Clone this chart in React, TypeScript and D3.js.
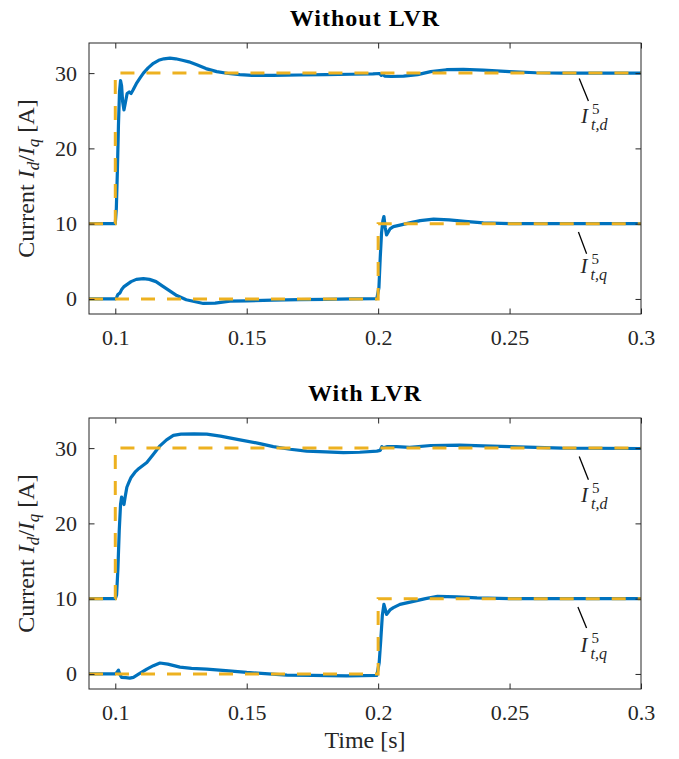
import React, { useRef, useEffect } from 'react'
import * as d3 from 'd3'

// axis ticks
const timeTicks = [0.1, 0.15, 0.2, 0.25, 0.3]
const currentTicks = [0, 10, 20, 30]
const panelTitles = ['Without LVR', 'With LVR']

// reference (dashed) signals
const refTimeD = [0.09, 0.1, 0.1, 0.3]
const refD = [10, 10, 30, 30]
const refTimeQ = [0.09, 0.2, 0.2, 0.3]
const refQ = [0, 0, 10, 10]

// measured I_d, without LVR
const tD1 = [0.09, 0.1, 0.1004, 0.1008, 0.1012, 0.1016, 0.102, 0.1024, 0.1028, 0.1033, 0.1038, 0.1045, 0.1053, 0.106, 0.1068, 0.108, 0.1095, 0.1107, 0.1125, 0.1145, 0.1165, 0.1185, 0.1208, 0.123, 0.1255, 0.128, 0.131, 0.1345, 0.1386, 0.143, 0.1474, 0.152, 0.16, 0.17, 0.18, 0.19, 0.198, 0.2005, 0.2012, 0.2018, 0.2025, 0.205, 0.2097, 0.215, 0.22, 0.226, 0.2324, 0.24, 0.25, 0.26, 0.27, 0.28, 0.3]
const iD1 = [10, 10, 12, 17, 23, 27.5, 29.0, 28.3, 26.2, 25.1, 26.0, 27.3, 27.5, 27.3, 27.8, 28.6, 29.4, 30.0, 30.7, 31.3, 31.7, 31.9, 32.0, 31.9, 31.7, 31.5, 31.1, 30.6, 30.2, 29.95, 29.8, 29.7, 29.7, 29.75, 29.8, 29.85, 29.9, 29.95, 29.7, 29.85, 29.6, 29.55, 29.6, 29.8, 30.2, 30.45, 30.5, 30.4, 30.2, 30.05, 30.0, 30.0, 30.0]

// measured I_q, without LVR
const tQ1 = [0.09, 0.1, 0.1005, 0.101, 0.1018, 0.1025, 0.1032, 0.104, 0.106, 0.108, 0.1107, 0.113, 0.1155, 0.118, 0.121, 0.1234, 0.127, 0.1335, 0.138, 0.1436, 0.15, 0.16, 0.17, 0.18, 0.19, 0.1995, 0.2003, 0.2008, 0.2013, 0.2018, 0.2022, 0.2027, 0.2032, 0.2045, 0.2058, 0.2083, 0.212, 0.216, 0.2211, 0.227, 0.233, 0.24, 0.25, 0.26, 0.3]
const iQ1 = [0, 0, 0.2, 0.6, 0.8, 1.3, 1.6, 1.8, 2.3, 2.6, 2.7, 2.6, 2.3, 1.7, 1.0, 0.45, -0.1, -0.6, -0.55, -0.3, -0.25, -0.15, -0.1, -0.05, 0.0, 0.05, 1.5, 5.5, 8.8, 10.4, 10.95, 9.5, 8.5, 9.3, 9.6, 9.8, 10.1, 10.4, 10.6, 10.5, 10.3, 10.1, 10.0, 10.0, 10.0]

// measured I_d, with LVR
const tD2 = [0.09, 0.1, 0.1005, 0.101, 0.1015, 0.102, 0.1024, 0.1028, 0.1033, 0.1038, 0.1044, 0.105, 0.106, 0.1075, 0.109, 0.112, 0.1145, 0.117, 0.1195, 0.1221, 0.125, 0.13, 0.1348, 0.14, 0.1474, 0.155, 0.1601, 0.1665, 0.1728, 0.18, 0.1868, 0.193, 0.1995, 0.2008, 0.2014, 0.202, 0.2035, 0.207, 0.212, 0.22, 0.231, 0.24, 0.25, 0.26, 0.27, 0.3]
const iD2 = [10, 10, 10.5, 14, 19, 22.5, 23.5, 23.0, 22.5, 23.6, 24.8, 25.3, 26.1, 26.8, 27.3, 28.1, 29.2, 30.3, 31.1, 31.7, 31.85, 31.9, 31.85, 31.6, 31.1, 30.6, 30.2, 29.85, 29.6, 29.5, 29.4, 29.45, 29.6, 29.7, 30.2, 30.05, 30.2, 30.2, 30.1, 30.35, 30.4, 30.3, 30.2, 30.1, 30.0, 29.95]

// measured I_q, with LVR
const tQ2 = [0.09, 0.1, 0.1006, 0.1012, 0.1018, 0.1024, 0.104, 0.1055, 0.1069, 0.109, 0.112, 0.1145, 0.117, 0.12, 0.1246, 0.129, 0.1348, 0.142, 0.15, 0.1653, 0.175, 0.188, 0.1995, 0.2004, 0.201, 0.2016, 0.2022, 0.2027, 0.2032, 0.2045, 0.2058, 0.2083, 0.213, 0.218, 0.2226, 0.23, 0.2376, 0.25, 0.3]
const iQ2 = [0, 0, 0.2, 0.5, -0.1, -0.45, -0.5, -0.55, -0.45, 0.0, 0.65, 1.1, 1.45, 1.3, 0.9, 0.75, 0.65, 0.45, 0.2, -0.15, -0.2, -0.25, -0.2, 1.5, 4.5, 7.8, 9.25, 8.6, 7.9, 8.5, 8.8, 9.25, 9.6, 10.0, 10.3, 10.25, 10.1, 10.0, 10.0]

// label callouts [t0, y0, t1, y1, tText, yText] per panel
const calloutD = [[0.2765, 29.3, 0.28, 26.3, 0.2772, 23.4], [0.2765, 28.9, 0.28, 25.8, 0.2772, 22.8]]
const calloutQ = [[0.2762, 8.9, 0.2793, 6.0, 0.277, 3.4], [0.276, 8.9, 0.2793, 6.1, 0.277, 2.9]]

const FONT = 'Liberation Serif'
const BLUE = '#0072BD'
const YELLOW = '#EDB120'
const AXIS = '#262626'

const App = () => {
    const visEl = useRef(null)
    const width = 679
    const height = 759

    useEffect(() => {
        const svg = d3.select(visEl.current)
        svg.selectAll('*').remove()

        const left = 89, right = 641
        const panelTops = [43, 418]
        const panelH = 271

        const x = d3.scaleLinear().domain([0.09, 0.3]).range([left, right])

        const series = [
            [[tD1, iD1], [tQ1, iQ1]],
            [[tD2, iD2], [tQ2, iQ2]],
        ]

        panelTops.forEach((top, p) => {
            const y = d3.scaleLinear().domain([-2, 34]).range([top + panelH, top])
            const g = svg.append('g')

            g.append('clipPath').attr('id', `clip${p}`)
                .append('rect').attr('x', left).attr('y', top)
                .attr('width', right - left).attr('height', panelH)

            const path = (ts: number[], vs: number[]) =>
                d3.line<number>().x(i => x(ts[i])).y(i => y(vs[i]))(d3.range(ts.length))

            const plot = g.append('g').attr('clip-path', `url(#clip${p})`)
            series[p].forEach(([ts, vs]) => {
                plot.append('path').attr('d', path(ts, vs))
                    .attr('fill', 'none').attr('stroke', BLUE)
                    .attr('stroke-width', 3.2).attr('stroke-linejoin', 'round')
            })
            ;[[refTimeD, refD], [refTimeQ, refQ]].forEach(([ts, vs]) => {
                plot.append('path').attr('d', path(ts, vs))
                    .attr('fill', 'none').attr('stroke', YELLOW)
                    .attr('stroke-width', 3).attr('stroke-dasharray', '14 12')
            })

            // axes
            const xAxis = d3.axisBottom(x).tickValues(timeTicks)
                .tickFormat(d => d3.format('')(+d))
                .tickSizeInner(-5.5).tickSizeOuter(0).tickPadding(15.4)
            const xg = g.append('g').attr('transform', `translate(0,${top + panelH})`).call(xAxis)
            const xTop = d3.axisTop(x).tickValues(timeTicks).tickFormat(() => '')
                .tickSizeInner(-5.5).tickSizeOuter(0)
            const xtg = g.append('g').attr('transform', `translate(0,${top})`).call(xTop)
            const yAxis = d3.axisLeft(y).tickValues(currentTicks)
                .tickSizeInner(-5.5).tickSizeOuter(0).tickPadding(12)
            const yg = g.append('g').attr('transform', `translate(${left},0)`).call(yAxis)
            const yRight = d3.axisRight(y).tickValues(currentTicks).tickFormat(() => '')
                .tickSizeInner(-5.5).tickSizeOuter(0)
            const yrg = g.append('g').attr('transform', `translate(${right},0)`).call(yRight)

            ;[xg, xtg, yg, yrg].forEach(a => {
                a.attr('font-family', FONT).attr('font-size', 22)
                a.select('.domain').remove()
                a.selectAll('line').attr('stroke', AXIS).attr('stroke-width', 1)
                a.selectAll('text').attr('fill', AXIS)
                    .style('font-family', FONT).style('font-size', '22px')
            })

            g.append('rect').attr('x', left).attr('y', top)
                .attr('width', right - left).attr('height', panelH)
                .attr('fill', 'none').attr('stroke', AXIS).attr('stroke-width', 1)

            // title
            g.append('text')
                .attr('x', (left + right) / 2).attr('y', top - 17)
                .attr('text-anchor', 'middle')
                .style('font-family', FONT).style('font-size', '24px')
                .style('font-weight', 'bold').style('letter-spacing', '1px')
                .attr('fill', '#000')
                .text(panelTitles[p])

            // y label
            const yl = g.append('text')
                .attr('transform', `translate(34,${top + panelH / 2}) rotate(-90)`)
                .attr('text-anchor', 'middle')
                .style('font-family', FONT).style('font-size', '24px')
                .attr('fill', AXIS)
            yl.append('tspan').text('Current ')
            yl.append('tspan').style('font-style', 'italic').text('I')
            yl.append('tspan').style('font-style', 'italic').style('font-size', '17px').attr('dy', 5).text('d')
            yl.append('tspan').attr('dy', -5).text('/')
            yl.append('tspan').style('font-style', 'italic').text('I')
            yl.append('tspan').style('font-style', 'italic').style('font-size', '17px').attr('dy', 5).text('q')
            yl.append('tspan').attr('dy', -5).text(' [A]')

            // callouts
            ;[[calloutD[p], 'd'], [calloutQ[p], 'q']].forEach(([c, sub]: any) => {
                g.append('line')
                    .attr('x1', x(c[0])).attr('y1', y(c[1]))
                    .attr('x2', x(c[2])).attr('y2', y(c[3]))
                    .attr('stroke', '#000').attr('stroke-width', 1.3)
                const tx = x(c[4]), ty = y(c[5])
                g.append('text').attr('x', tx).attr('y', ty)
                    .style('font-family', FONT).style('font-size', '21px').style('font-style', 'italic')
                    .attr('fill', AXIS).text('I')
                g.append('text').attr('x', tx + 11).attr('y', ty - 9)
                    .style('font-family', FONT).style('font-size', '15px')
                    .attr('fill', AXIS).text('5')
                g.append('text').attr('x', tx + 10).attr('y', ty + 7)
                    .style('font-family', FONT).style('font-size', '16px').style('font-style', 'italic')
                    .attr('fill', AXIS).text(`t,${sub}`)
            })
        })

        svg.append('text')
            .attr('x', (left + right) / 2).attr('y', 748)
            .attr('text-anchor', 'middle')
            .style('font-family', FONT).style('font-size', '24px')
            .attr('fill', AXIS)
            .text('Time [s]')
    }, [])

    return (
        <svg ref={visEl} width={width} height={height}
            style={{ position: 'absolute', left: 0, top: 0, background: '#fff' }} />
    )
}

export default App
